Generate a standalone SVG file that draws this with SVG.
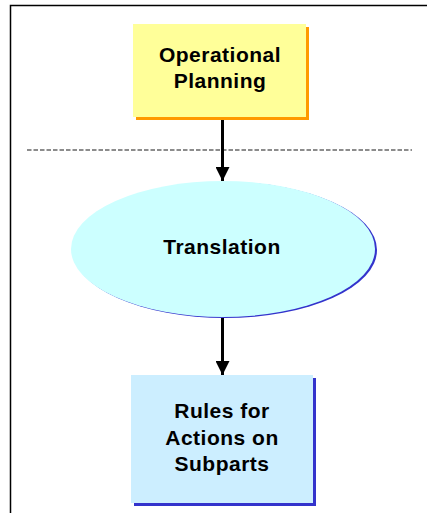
<svg xmlns="http://www.w3.org/2000/svg" width="427" height="513" viewBox="0 0 427 513">
  <defs>
    <marker id="arrow" viewBox="0 0 14 14" refX="14" refY="7" markerWidth="14" markerHeight="14" markerUnits="userSpaceOnUse" orient="auto">
      <path d="M0,0 L14,7 L0,14 Z" fill="#000"/>
    </marker>
  </defs>
  <style>
    .label { font-family: "Liberation Sans", Arial, sans-serif; font-weight: bold; font-size: 21px; letter-spacing: 0.5px; fill: #000; text-anchor: middle; }
    .conn { stroke: #000; stroke-width: 3; fill: none; }
  </style>
  <rect width="427" height="513" fill="#fff"/>
  <!-- frame -->
  <path d="M10.5,513 L10.5,5.5 L427,5.5" fill="none" stroke="#000" stroke-width="1.5"/>
  <!-- separator -->
  <line x1="27" y1="150" x2="412" y2="150" stroke="#8c8c8c" stroke-width="1.8" stroke-dasharray="4.5,2"/>

  <g id="node-operational-planning">
    <rect x="136" y="27" width="173" height="93" fill="#ff9900"/>
    <rect x="133" y="24" width="173" height="93" fill="#ffff99"/>
    <text class="label" x="220" y="62">Operational</text>
    <text class="label" x="220" y="88">Planning</text>
  </g>

  <g id="node-translation">
    <ellipse cx="225" cy="250" rx="152" ry="68" fill="#3333cc"/>
    <ellipse cx="223" cy="249" rx="152" ry="68" fill="#ccffff"/>
    <text class="label" x="222" y="254">Translation</text>
  </g>

  <g id="node-rules">
    <rect x="134" y="378" width="182" height="128" fill="#3333cc"/>
    <rect x="131" y="375" width="182" height="128" fill="#cceeff"/>
    <text class="label" x="222" y="418">Rules for</text>
    <text class="label" x="222" y="445">Actions on</text>
    <text class="label" x="222" y="471">Subparts</text>
  </g>

  <g id="connectors">
    <line class="conn" x1="222.5" y1="120" x2="222.5" y2="181" marker-end="url(#arrow)"/>
    <line class="conn" x1="222.5" y1="318" x2="222.5" y2="375" marker-end="url(#arrow)"/>
  </g>
</svg>
